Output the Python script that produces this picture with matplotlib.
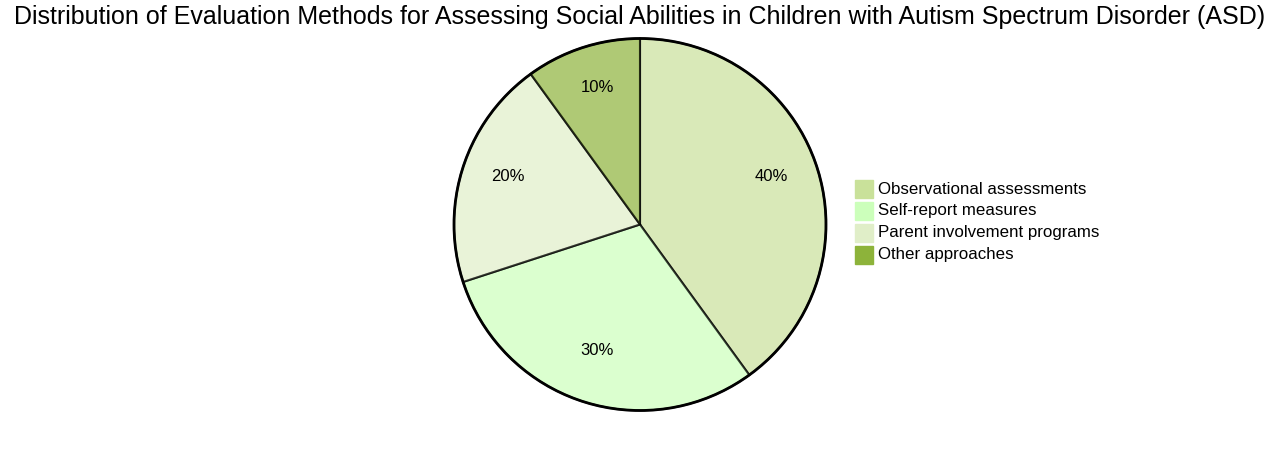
import numpy as np
from matplotlib import pyplot as plt
from matplotlib.patches import Rectangle, Circle

plt.rcParams['font.family'] = ['Liberation Sans', 'DejaVu Sans']

labels = ['Observational assessments', 'Self-report measures',
          'Parent involvement programs', 'Other approaches']
values = [40, 30, 20, 10]
colors = ['#c9e19a', '#ccffbb', '#e0eec8', '#8db33a']
title = 'Distribution of Evaluation Methods for Assessing Social Abilities in Children with Autism Spectrum Disorder (ASD)'

W, H = 1280, 450
fig = plt.figure(figsize=(W/100, H/100), dpi=100)

cx, cy, r = 640, 224.5, 186
ax = fig.add_axes([(cx-r)/W, (H-cy-r)/H, 2*r/W, 2*r/H])
wedges, texts, autotexts = ax.pie(
    values, colors=colors, startangle=90, counterclock=False,
    autopct='%1.0f%%', pctdistance=0.745,
    wedgeprops=dict(edgecolor='black', linewidth=1.5, alpha=0.7),
    textprops=dict(fontsize=12, color='black'))
for w in wedges:
    w.set_edgecolor((0, 0, 0, 1))
    w.set_clip_on(False)
# labels sit a little above the centroid in the original
for t in autotexts:
    x, y = t.get_position()
    t.set_position((x, y + 5.5/r))
ax.add_patch(Circle((0, 0), 1, fill=False, edgecolor='black', linewidth=2, clip_on=False))
ax.set_xlim(-1, 1)
ax.set_ylim(-1, 1)
ax.set_aspect('equal')
ax.axis('off')

fig.text(0.5, 1 - 17/H, title, ha='center', va='center', fontsize=18)

# legend
for k, (lab, col) in enumerate(zip(labels, colors)):
    y0 = 180 + 22*k
    fig.patches.append(Rectangle((855/W, (H-y0-18)/H), 18/W, 18/H,
                                 facecolor=col, edgecolor=col, transform=fig.transFigure))
    fig.text(878/W, (H-y0-9)/H, lab, ha='left', va='center', fontsize=12.2)

plt.savefig('out.png', dpi=100)
